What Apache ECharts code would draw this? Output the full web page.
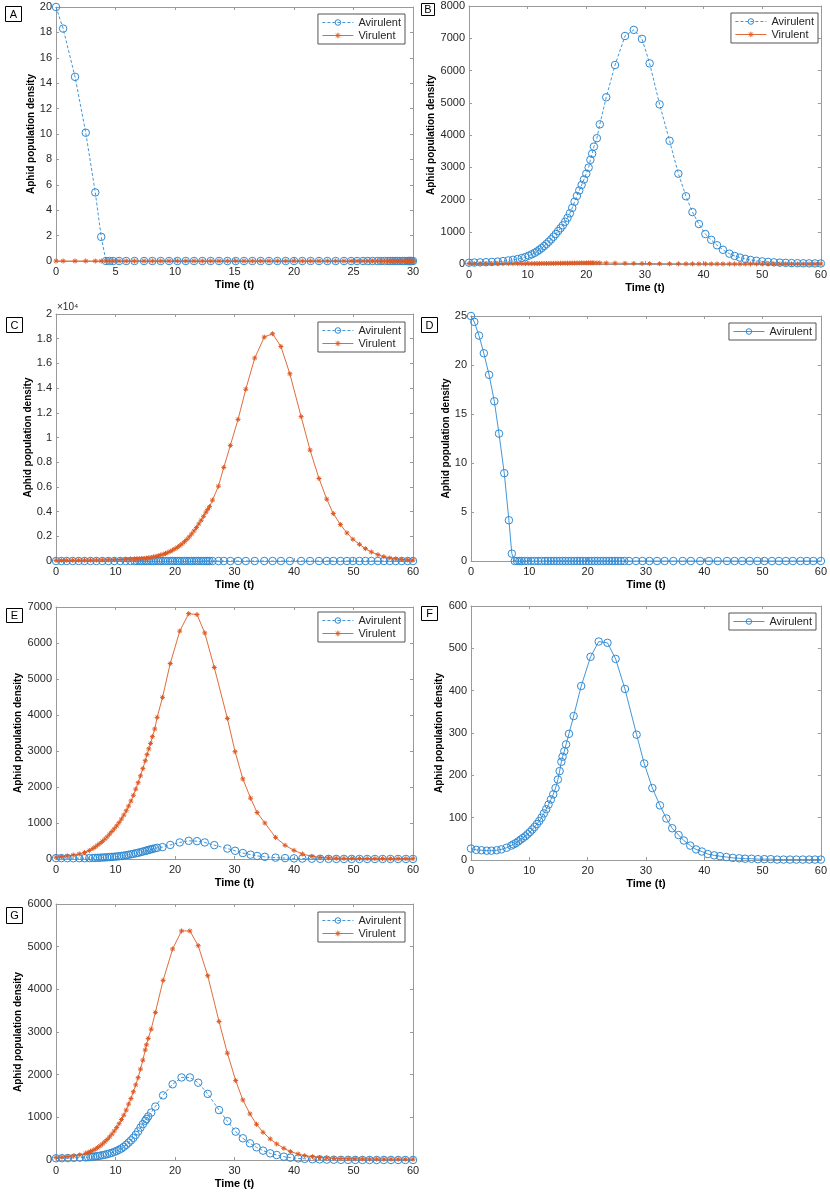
<!DOCTYPE html>
<html>
<head>
<meta charset="utf-8">
<script src="https://cdn.jsdelivr.net/npm/echarts@6/dist/echarts.min.js"></script>
<style>
  html, body { margin: 0; padding: 0; background: #fff; }
  #chart { width: 830px; height: 1201px; }
</style>
</head>
<body>
<div id="chart"></div>
<script>
// ---- data (time steps of the solver, densities) ----
const tA = [0, 0.6, 1.6, 2.5, 3.3, 3.8, 4.2, 4.5, 4.8, 5.3,
  5.9, 6.6, 7.4, 8.1, 8.8, 9.5, 10.2, 10.9, 11.6, 12.3,
  13.0, 13.7, 14.4, 15.1, 15.8, 16.5, 17.2, 17.9, 18.6, 19.3,
  20.0, 20.7, 21.4, 22.1, 22.8, 23.5, 24.2, 24.8, 25.3, 25.8,
  26.2, 26.6, 27.0, 27.3, 27.6, 27.9, 28.1, 28.3, 28.5, 28.7,
  28.9, 29.1, 29.3, 29.5, 29.6, 29.7, 29.8, 29.9, 30.0];
const avA = [20, 18.3, 14.5, 10.1, 5.4, 1.9, 0, 0, 0, 0,
  0, 0, 0, 0, 0, 0, 0, 0, 0, 0,
  0, 0, 0, 0, 0, 0, 0, 0, 0, 0,
  0, 0, 0, 0, 0, 0, 0, 0, 0, 0,
  0, 0, 0, 0, 0, 0, 0, 0, 0, 0,
  0, 0, 0, 0, 0, 0, 0, 0, 0];
const viA = [0, 0, 0, 0, 0, 0, 0, 0, 0, 0,
  0, 0, 0, 0, 0, 0, 0, 0, 0, 0,
  0, 0, 0, 0, 0, 0, 0, 0, 0, 0,
  0, 0, 0, 0, 0, 0, 0, 0, 0, 0,
  0, 0, 0, 0, 0, 0, 0, 0, 0, 0,
  0, 0, 0, 0, 0, 0, 0, 0, 0];

const tB = [0, 0.9, 1.9, 2.9, 3.9, 4.9, 5.8, 6.7, 7.5, 8.3,
  9.0, 9.6, 10.2, 10.7, 11.2, 11.6, 12.0, 12.4, 12.8, 13.2,
  13.6, 14.0, 14.4, 14.8, 15.2, 15.6, 16.0, 16.4, 16.8, 17.2,
  17.6, 18.0, 18.4, 18.8, 19.2, 19.6, 20.0, 20.4, 20.7, 21.0,
  21.3, 21.8, 22.3, 23.4, 24.9, 26.6, 28.1, 29.5, 30.8, 32.5,
  34.2, 35.7, 37.0, 38.1, 39.2, 40.3, 41.3, 42.3, 43.3, 44.4,
  45.3, 46.2, 47.1, 48.0, 49.0, 50.0, 51.0, 52.0, 53.0, 54.0,
  55.0, 56.0, 57.0, 58.0, 59.0, 60.0];
const avB = [40, 45, 50, 56, 63, 75, 90, 110, 130, 155,
  185, 215, 260, 300, 345, 390, 440, 495, 555, 620,
  690, 765, 845, 930, 1020, 1110, 1200, 1310, 1430, 1570,
  1740, 1930, 2110, 2280, 2450, 2620, 2800, 2990, 3230, 3420,
  3640, 3900, 4330, 5170, 6170, 7070, 7260, 6980, 6220, 4950,
  3820, 2800, 2100, 1610, 1240, 930, 750, 580, 440, 320,
  250, 200, 160, 125, 100, 80, 65, 52, 42, 35,
  29, 25, 22, 20, 18, 16];
const viB = [15, 14, 13, 12, 12, 11, 11, 11, 11, 12,
  12, 13, 13, 14, 14, 15, 15, 16, 17, 17,
  18, 19, 20, 21, 22, 23, 24, 25, 26, 27,
  28, 29, 30, 31, 32, 33, 34, 35, 35, 35,
  35, 34, 33, 30, 26, 22, 18, 15, 12, 9,
  7, 6, 5, 4, 4, 3, 3, 2, 2, 2,
  2, 1, 1, 1, 1, 1, 1, 1, 1, 1,
  1, 1, 1, 1, 1, 1];

const tC = [0, 0.9, 1.8, 2.8, 3.8, 4.8, 5.8, 6.8, 7.8, 8.8,
  9.8, 10.8, 11.7, 12.5, 13.2, 13.6, 14.0, 14.4, 14.8, 15.2,
  15.6, 16.0, 16.4, 16.8, 17.2, 17.6, 18.0, 18.4, 18.8, 19.2,
  19.6, 20.0, 20.4, 20.8, 21.2, 21.6, 22.0, 22.4, 22.8, 23.2,
  23.6, 24.0, 24.4, 24.8, 25.2, 25.5, 25.8, 26.3, 27.3, 28.2,
  29.3, 30.6, 31.9, 33.4, 35.0, 36.4, 37.8, 39.3, 41.2, 42.7,
  44.2, 45.5, 46.6, 47.8, 48.9, 49.9, 51.0, 52.0, 53.0, 54.1,
  55.1, 56.1, 57.1, 58.1, 59.1, 60.0];
const avC = [0, 0, 0, 0, 0, 0, 0, 0, 0, 0,
  0, 0, 0, 0, 0, 0, 0, 0, 0, 0,
  0, 0, 0, 0, 0, 0, 0, 0, 0, 0,
  0, 0, 0, 0, 0, 0, 0, 0, 0, 0,
  0, 0, 0, 0, 0, 0, 0, 0, 0, 0,
  0, 0, 0, 0, 0, 0, 0, 0, 0, 0,
  0, 0, 0, 0, 0, 0, 0, 0, 0, 0,
  0, 0, 0, 0, 0, 0];
const viC = [50, 52, 55, 58, 62, 66, 70, 76, 84, 94,
  106, 120, 135, 150, 165, 175, 185, 200, 215, 235,
  260, 290, 330, 375, 425, 480, 540, 610, 690, 780,
  880, 990, 1110, 1240, 1390, 1560, 1750, 1960, 2190, 2440,
  2710, 3000, 3300, 3620, 3950, 4180, 4400, 4930, 6060, 7580,
  9360, 11470, 13910, 16430, 18130, 18400, 17370, 15160, 11690, 8980,
  6680, 5010, 3840, 2950, 2270, 1760, 1350, 1000, 730, 510,
  350, 240, 170, 120, 90, 70];

const tD = [0, 0.57, 1.37, 2.2, 3.1, 4.0, 4.8, 5.7, 6.5, 7.0,
  7.5, 7.9, 8.3, 8.7, 9.2, 9.7, 10.3, 10.9, 11.5, 12.1,
  12.7, 13.2, 13.7, 14.2, 14.7, 15.2, 15.7, 16.2, 16.7, 17.2,
  17.7, 18.2, 18.7, 19.2, 19.7, 20.2, 20.7, 21.2, 21.7, 22.2,
  22.7, 23.2, 23.7, 24.2, 24.7, 25.2, 25.7, 26.3, 27.1, 28.3,
  29.4, 30.6, 31.9, 33.2, 34.7, 36.3, 37.7, 39.3, 40.8, 42.3,
  43.9, 45.2, 46.5, 47.8, 49.1, 50.3, 51.6, 52.8, 54.0, 55.2,
  56.5, 57.6, 58.7, 60.0];
const avD = [25, 24.4, 23.0, 21.2, 19.0, 16.3, 13.0, 8.96, 4.16, 0.75,
  0, 0, 0, 0, 0, 0, 0, 0, 0, 0,
  0, 0, 0, 0, 0, 0, 0, 0, 0, 0,
  0, 0, 0, 0, 0, 0, 0, 0, 0, 0,
  0, 0, 0, 0, 0, 0, 0, 0, 0, 0,
  0, 0, 0, 0, 0, 0, 0, 0, 0, 0,
  0, 0, 0, 0, 0, 0, 0, 0, 0, 0,
  0, 0, 0, 0];

const tE = [0, 0.9, 1.9, 2.9, 3.9, 4.8, 5.6, 6.2, 6.6, 7.0,
  7.4, 7.8, 8.2, 8.6, 9.0, 9.4, 9.8, 10.2, 10.6, 11.0,
  11.4, 11.8, 12.2, 12.6, 13.0, 13.4, 13.8, 14.2, 14.6, 15.0,
  15.3, 15.6, 15.9, 16.2, 16.6, 17.0, 17.9, 19.2, 20.8, 22.3,
  23.7, 25.0, 26.6, 28.8, 30.1, 31.4, 32.7, 33.8, 35.1, 36.9,
  38.5, 40.0, 41.4, 43.0, 44.4, 45.8, 47.1, 48.4, 49.7, 51.0,
  52.3, 53.6, 54.9, 56.2, 57.5, 58.8, 60.0];
const avE = [25, 24, 23, 22, 22, 23, 25, 28, 30, 33,
  36, 40, 44, 48, 53, 58, 63, 69, 76, 85,
  95, 105, 117, 130, 144, 158, 173, 190, 207, 225,
  238, 252, 266, 280, 295, 310, 330, 390, 460, 505,
  495, 460, 385, 290, 228, 166, 120, 85, 60, 38,
  25, 17, 12, 8, 6, 4, 3, 2, 2, 1,
  1, 1, 1, 1, 1, 1, 1];
const viE = [50, 65, 85, 110, 140, 180, 235, 290, 335, 385,
  435, 490, 550, 615, 690, 765, 840, 920, 1010, 1110,
  1220, 1340, 1470, 1610, 1770, 1940, 2120, 2310, 2510, 2730,
  2900, 3060, 3210, 3400, 3610, 3935, 4490, 5430, 6330, 6815,
  6790, 6280, 5320, 3905, 2980, 2225, 1690, 1290, 1000, 600,
  380, 240, 140, 75, 46, 30, 22, 17, 14, 12,
  11, 10, 10, 9, 9, 9, 9];

const tF = [0, 0.9, 1.8, 2.7, 3.5, 4.4, 5.2, 6.1, 6.9, 7.3,
  7.7, 8.1, 8.5, 8.9, 9.3, 9.7, 10.1, 10.5, 10.9, 11.3,
  11.7, 12.1, 12.5, 12.9, 13.3, 13.7, 14.1, 14.5, 14.9, 15.2,
  15.5, 15.7, 16.0, 16.3, 16.8, 17.6, 18.9, 20.5, 21.9, 23.4,
  24.8, 26.4, 28.4, 29.7, 31.1, 32.4, 33.5, 34.5, 35.6, 36.5,
  37.6, 38.6, 39.6, 40.6, 41.7, 42.7, 43.8, 44.9, 46.0, 47.0,
  48.1, 49.2, 50.3, 51.4, 52.5, 53.6, 54.7, 55.8, 56.9, 58.0,
  59.0, 60.0];
const avF = [27, 24, 23, 22, 22, 23, 25, 29, 34, 37,
  40, 44, 48, 52, 56, 61, 66, 72, 78, 85,
  92, 100, 110, 120, 131, 143, 155, 170, 190, 210,
  232, 244, 257, 273, 298, 340, 411, 480, 516, 513,
  475, 404, 296, 228, 170, 129, 98, 75, 59, 46,
  34, 25, 20, 14, 11, 9, 7, 5, 4, 3,
  3, 2, 2, 2, 1, 1, 1, 1, 1, 1,
  1, 1];

const tG = [0, 1.0, 2.0, 3.0, 4.0, 5.0, 5.4, 5.8, 6.2, 6.6,
  7.0, 7.4, 7.8, 8.2, 8.6, 9.0, 9.4, 9.8, 10.2, 10.6,
  11.0, 11.4, 11.8, 12.2, 12.6, 13.0, 13.4, 13.8, 14.2, 14.6,
  15.0, 15.2, 15.5, 16.0, 16.7, 18.0, 19.6, 21.1, 22.5, 23.9,
  25.5, 27.4, 28.8, 30.2, 31.4, 32.6, 33.7, 34.8, 36.0, 37.1,
  38.3, 39.4, 40.7, 41.8, 43.1, 44.3, 45.5, 46.7, 47.9, 49.1,
  50.3, 51.5, 52.7, 53.9, 55.1, 56.3, 57.5, 58.7, 60.0];
const avG = [40, 42, 45, 50, 55, 62, 66, 71, 77, 84,
  92, 101, 111, 123, 137, 152, 170, 190, 213, 240,
  270, 310, 355, 405, 460, 520, 590, 670, 760, 840,
  920, 960, 1020, 1111, 1252, 1515, 1775, 1935, 1935, 1812,
  1550, 1170, 910, 665, 509, 391, 297, 219, 156, 117,
  78, 55, 38, 27, 19, 13, 9, 6, 4, 3,
  2, 2, 1, 1, 1, 1, 1, 1, 1];
const viG = [60, 68, 80, 98, 120, 158, 178, 200, 225, 255,
  290, 330, 375, 425, 480, 540, 605, 680, 760, 850,
  950, 1050, 1170, 1310, 1440, 1600, 1760, 1930, 2130, 2340,
  2580, 2700, 2850, 3067, 3459, 4210, 4945, 5368, 5368, 5023,
  4320, 3247, 2504, 1862, 1408, 1080, 837, 650, 493, 376,
  274, 196, 141, 102, 78, 60, 48, 40, 34, 30,
  27, 25, 23, 22, 21, 20, 20, 19, 19];

const xTitle = 'Time (t)';
const yTitle = 'Aphid population density';
const avName = 'Avirulent';
const viName = 'Virulent';

// ---- layout / styling per panel ----
const panels = [
  { key: 'A', t: tA, av: avA, vi: viA, dashed: true, xMax: 30, xInt: 5, yMax: 20, yInt: 2,
    grid: { left: 56, top: 7, width: 357, height: 254 }, yGap: 19, legend: { right: 425, top: 14 },
    box: [5, 6, 16, 15] },
  { key: 'B', t: tB, av: avB, vi: viB, dashed: true, xMax: 60, xInt: 10, yMax: 8000, yInt: 1000,
    grid: { left: 469, top: 6, width: 354, height: 258 }, yGap: 31, legend: { right: 12, top: 13 },
    box: [421, 3, 13, 12] },
  { key: 'C', t: tC, av: avC, vi: viC, dashed: true, xMax: 60, xInt: 10, yMax: 20000, yInt: 2000,
    grid: { left: 56, top: 314, width: 357, height: 247 }, yGap: 23, legend: { right: 425, top: 322 },
    box: [6, 317, 16, 15], scale: 1e4 },
  { key: 'D', t: tD, av: avD, vi: null, dashed: false, xMax: 60, xInt: 10, yMax: 25, yInt: 5,
    grid: { left: 471, top: 316, width: 351, height: 245 }, yGap: 19, legend: { right: 14, top: 323 },
    box: [421, 317, 16, 15] },
  { key: 'E', t: tE, av: avE, vi: viE, dashed: true, xMax: 60, xInt: 10, yMax: 7000, yInt: 1000,
    grid: { left: 56, top: 607, width: 357, height: 252 }, yGap: 33, legend: { right: 425, top: 612 },
    box: [6, 608, 16, 14] },
  { key: 'F', t: tF, av: avF, vi: null, dashed: false, xMax: 60, xInt: 10, yMax: 600, yInt: 100,
    grid: { left: 471, top: 606, width: 351, height: 254 }, yGap: 25, legend: { right: 14, top: 613 },
    box: [421, 606, 16, 14] },
  { key: 'G', t: tG, av: avG, vi: viG, dashed: true, xMax: 60, xInt: 10, yMax: 6000, yInt: 1000,
    grid: { left: 56, top: 904, width: 357, height: 256 }, yGap: 33, legend: { right: 425, top: 912 },
    box: [6, 907, 16, 16] }
];

const FONT = '"Liberation Sans", Arial, Helvetica, sans-serif';
const BLUE = '#2f8ad3';
const RED = '#dd5a24';
const AXIS_GRAY = '#9a9a9a';
const STAR = 'path://M4,0L4,8M0,4L8,4M1.2,1.2L6.8,6.8M1.2,6.8L6.8,1.2';

const zip = (t, v) => t.map((x, i) => [x, v[i]]);

const grid = [], xAxis = [], yAxis = [], series = [], legend = [], graphic = [];

panels.forEach((p, i) => {
  grid.push(Object.assign({ show: false, containLabel: false }, p.grid));

  const line = { show: true, onZero: false, lineStyle: { color: AXIS_GRAY, width: 1 } };
  const tick = { show: true, inside: true, length: 3, lineStyle: { color: AXIS_GRAY } };

  xAxis.push({
    type: 'value', gridIndex: i, position: 'bottom', min: 0, max: p.xMax, interval: p.xInt,
    axisLine: line, axisTick: tick, splitLine: { show: false },
    axisLabel: { color: '#262626', fontSize: 11, fontFamily: FONT, margin: 5, formatter: v => String(v) },
    name: xTitle, nameLocation: 'middle', nameGap: 18,
    nameTextStyle: { color: '#000', fontWeight: 'bold', fontSize: 11, fontFamily: FONT }
  });
  xAxis.push({
    type: 'value', gridIndex: i, position: 'top', min: 0, max: p.xMax, interval: p.xInt,
    axisLine: line, axisTick: tick, splitLine: { show: false }, axisLabel: { show: false }
  });
  yAxis.push({
    type: 'value', gridIndex: i, position: 'left', min: 0, max: p.yMax, interval: p.yInt,
    axisLine: line, axisTick: tick, splitLine: { show: false },
    axisLabel: {
      color: '#262626', fontSize: 11, fontFamily: FONT, margin: 4,
      formatter: v => p.scale ? String(+(v / p.scale).toFixed(1)) : String(v)
    },
    name: yTitle, nameLocation: 'middle', nameGap: p.yGap,
    nameTextStyle: { color: '#000', fontWeight: 'bold', fontSize: 10, fontFamily: FONT }
  });
  yAxis.push({
    type: 'value', gridIndex: i, position: 'right', min: 0, max: p.yMax, interval: p.yInt,
    axisLine: line, axisTick: tick, splitLine: { show: false }, axisLabel: { show: false }
  });

  const avLine = { color: BLUE, width: 0.9, type: p.dashed ? [3, 2] : 'solid' };
  const redLine = { color: RED, width: 0.9, type: 'solid' };
  const avId = p.key + '|' + avName;
  const items = [{
    name: avId,
    itemStyle: { color: 'rgba(0,0,0,0)', borderColor: BLUE, borderWidth: 1 },
    lineStyle: avLine
  }];
  series.push({
    name: avId, type: 'line', xAxisIndex: 2 * i, yAxisIndex: 2 * i,
    data: zip(p.t, p.av), symbol: 'circle', symbolSize: 7.5, showAllSymbol: true,
    lineStyle: avLine,
    itemStyle: { color: 'rgba(0,0,0,0)', borderColor: BLUE, borderWidth: 1 },
    emphasis: { disabled: true }, z: 2
  });
  if (p.vi) {
    const viId = p.key + '|' + viName;
    items.push({
      name: viId,
      itemStyle: { color: 'rgba(0,0,0,0)', borderColor: RED, borderWidth: 1 },
      lineStyle: redLine
    });
    series.push({
      name: viId, type: 'line', xAxisIndex: 2 * i, yAxisIndex: 2 * i,
      data: zip(p.t, p.vi), symbol: STAR, symbolSize: 5, showAllSymbol: true,
      lineStyle: redLine,
      itemStyle: { color: 'rgba(0,0,0,0)', borderColor: RED, borderWidth: 1 },
      emphasis: { disabled: true }, z: 3
    });
  }

  legend.push(Object.assign({
    orient: 'vertical', data: items, formatter: n => n.split('|')[1],
    backgroundColor: '#fff', borderColor: '#555', borderWidth: 1,
    padding: [3, 4, 3, 4], itemGap: 2, itemWidth: 31, itemHeight: 7,
    textStyle: { color: '#262626', fontSize: 11, fontFamily: FONT },
    selectedMode: false
  }, p.legend));

  const [bx, by, bw, bh] = p.box;
  graphic.push({
    type: 'group', left: bx, top: by,
    children: [
      { type: 'rect', shape: { x: 0, y: 0, width: bw, height: bh },
        style: { fill: '#fff', stroke: '#000', lineWidth: 1 } },
      { type: 'text', style: { text: p.key, x: bw / 2, y: bh / 2 + 0.5, align: 'center', verticalAlign: 'middle',
        font: '11px ' + FONT, fill: '#000' } }
    ]
  });
});

// exponent label of panel C
graphic.push({
  type: 'text', left: 57, top: 302,
  style: { text: '\u00d710\u2074', font: '10px ' + FONT, fill: '#262626' }
});

const myChart = echarts.init(document.getElementById('chart'), null, { renderer: 'canvas' });
myChart.setOption({
  backgroundColor: '#fff',
  animation: false,
  grid: grid,
  xAxis: xAxis,
  yAxis: yAxis,
  legend: legend,
  series: series,
  graphic: graphic
});
</script>
</body>
</html>
